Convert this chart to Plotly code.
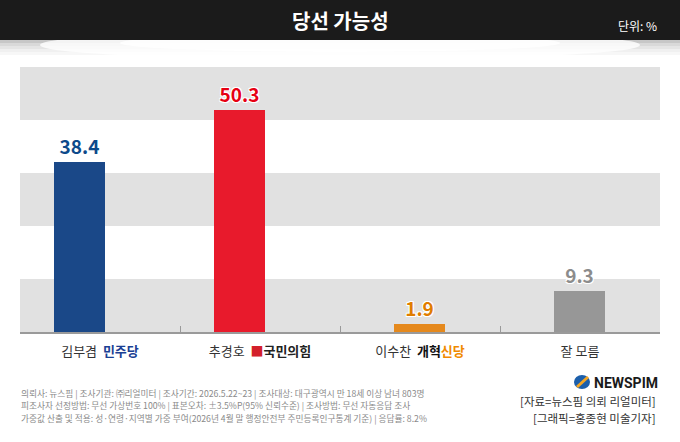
"""
당선 가능성 — 대구광역시장 후보 (뉴스핌 의뢰 리얼미터) 막대그래프
"""

import plotly.graph_objects as go

# ---------------------------------------------------------------------------
# Données
# ---------------------------------------------------------------------------
candidates = ["김부겸", "추경호", "이수찬", "잘 모름"]
parties = ["민주당", "국민의힘", "개혁신당", ""]
support = [38.4, 50.3, 1.9, 9.3]
value_labels = ["38.4", "50.3", "1.9", "9.3"]

title_text = "당선 가능성"
unit_text = "단위: %"
notes = [
    "의뢰사: 뉴스핌 | 조사기관: ㈜리얼미터 | 조사기간: 2026.5.22~23 | 조사대상: 대구광역시 만 18세 이상 남녀 803명",
    "피조사자 선정방법: 무선 가상번호 100% | 표본오차: ±3.5%P(95% 신뢰수준) | 조사방법: 무선 자동응답 조사",
    "가중값 산출 및 적용: 성·연령·지역별 가중 부여(2026년 4월 말 행정안전부 주민등록인구통계 기준) | 응답률: 8.2%",
]
credits = ["[자료=뉴스핌 의뢰 리얼미터]", "[그래픽=홍종현 미술기자]"]

# ---------------------------------------------------------------------------
# Styles
# ---------------------------------------------------------------------------
W, H = 680, 442
ML, MR, MT, MB = 20, 20, 67, 110
FONT = "Noto Sans CJK KR"

bar_colors = ["#1a4888", "#e81a2c", "#e5891d", "#979797"]
text_colors = ["#0d4a8a", "#e60012", "#e07d00", "#8c8c8c"]
bar_offsets = [-0.286, -0.286, -0.161, -0.161]
BAND = "#e1e1e1"


def px(x, y):
    """pixels (depuis le coin haut-gauche) -> coordonnées paper"""
    return (x - ML) / (W - ML - MR), (H - MB - y) / (H - MT - MB)


def prect(x0, y0, x1, y1, **kw):
    a, b = px(x0, y0)
    c, d = px(x1, y1)
    return dict(xref="paper", yref="paper", x0=a, x1=c, y0=d, y1=b,
                line=dict(width=0), **kw)


def party_label(name, party):
    if party == "민주당":
        return f"{name}  <b><span style='color:#1b3f94'>{party}</span></b>"
    if party == "국민의힘":
        return (f"{name}  <span style='color:#d3202b'>■</span>"
                f"<b><span style='color:#222'>{party}</span></b>")
    if party == "개혁신당":
        return (f"{name}  <b><span style='color:#111'>{party[:2]}</span>"
                f"<span style='color:#f08a00'>{party[2:]}</span></b>")
    return name


tick_text = [party_label(c, p) for c, p in zip(candidates, parties)]

fig = go.Figure()

fig.add_trace(
    go.Bar(
        x=candidates,
        y=support,
        width=0.32,
        offset=bar_offsets,
        marker=dict(color=bar_colors, line=dict(width=0)),
        text=value_labels,
        textposition="outside",
        textfont=dict(
            family=FONT, size=19, color=text_colors, weight="bold",
            shadow="1px 1px 0 #fff, -1px -1px 0 #fff, 1px -1px 0 #fff, -1px 1px 0 #fff",
        ),
        cliponaxis=False,
        hoverinfo="skip",
        showlegend=False,
    )
)

shapes = []
# bandes grises alternées
for lo in range(0, 60, 24):
    shapes.append(dict(type="rect", xref="paper", yref="y", x0=0, x1=1,
                       y0=lo, y1=lo + 12, fillcolor=BAND,
                       line=dict(width=0), layer="below"))

# ombre sous le bandeau (plus foncée sur les bords)
for i, op in enumerate([0.22, 0.15, 0.10, 0.06, 0.03]):
    shapes.append(prect(0, 40 + i * 3, W, 43 + i * 3, type="rect",
                        fillcolor="#000", opacity=op))
shapes.append(prect(40, 30, 640, 60, type="circle", fillcolor="#fff",
                    opacity=0.8))
shapes.append(prect(120, 34, 560, 52, type="circle", fillcolor="#fff",
                    opacity=0.8))
# bandeau noir du titre
shapes.append(prect(0, 0, W, 40, type="rect", fillcolor="#1b1b1b"))

# logo NEWSPIM
shapes.append(prect(574, 375, 590, 389, type="circle", fillcolor="#1c5fab"))
a, b = px(577, 387)
c, d = px(588, 377)
shapes.append(dict(type="line", xref="paper", yref="paper", x0=a, y0=b,
                   x1=c, y1=d, line=dict(color="#f5a623", width=3)))

annotations = []
x, y = px(340, 20)
annotations.append(dict(text=f"<b>{title_text}</b>", x=x, y=y, xref="paper",
                        yref="paper", showarrow=False, xanchor="center",
                        yanchor="middle",
                        font=dict(family=FONT, size=20, color="#fff")))
x, y = px(659, 25)
annotations.append(dict(text=unit_text, x=x, y=y, xref="paper", yref="paper",
                        showarrow=False, xanchor="right", yanchor="middle",
                        font=dict(family=FONT, size=12, color="#fff")))

for i, line in enumerate(notes):
    x, y = px(19, 393 + i * 12.8)
    annotations.append(dict(text=line, x=x, y=y, xref="paper", yref="paper",
                            showarrow=False, xanchor="left", yanchor="middle",
                            font=dict(family=FONT, size=8.7, color="#8a8a8a")))

x, y = px(660, 383)
annotations.append(dict(text="<b>NEWSPIM</b>", x=x, y=y, xref="paper",
                        yref="paper", showarrow=False, xanchor="right",
                        yanchor="middle",
                        font=dict(family="Roboto", size=14, color="#1a1a1a")))
for i, line in enumerate(credits):
    x, y = px(658, 401 + i * 17)
    annotations.append(dict(text=line, x=x, y=y, xref="paper", yref="paper",
                            showarrow=False, xanchor="right", yanchor="middle",
                            font=dict(family=FONT, size=11.5, color="#333")))

fig.update_xaxes(
    type="category",
    tickvals=candidates,
    ticktext=tick_text,
    range=[-0.5, 3.5],
    showline=True, linecolor="#9a9a9a", linewidth=2,
    ticks="inside", tickson="boundaries", ticklen=6, tickcolor="#9a9a9a",
    tickfont=dict(family=FONT, size=13, color="#333"),
    ticklabelstandoff=6,
    showgrid=False, zeroline=False, fixedrange=True,
)
fig.update_yaxes(range=[0, 60], visible=False, fixedrange=True)

fig.update_layout(
    width=W, height=H,
    margin=dict(l=ML, r=MR, t=MT, b=MB),
    paper_bgcolor="#fff",
    plot_bgcolor="#fff",
    shapes=shapes,
    annotations=annotations,
    bargap=0,
    font=dict(family=FONT),
)

fig.write_html("out.html", config={"displayModeBar": False},
               post_script="document.body.style.margin='0';")
